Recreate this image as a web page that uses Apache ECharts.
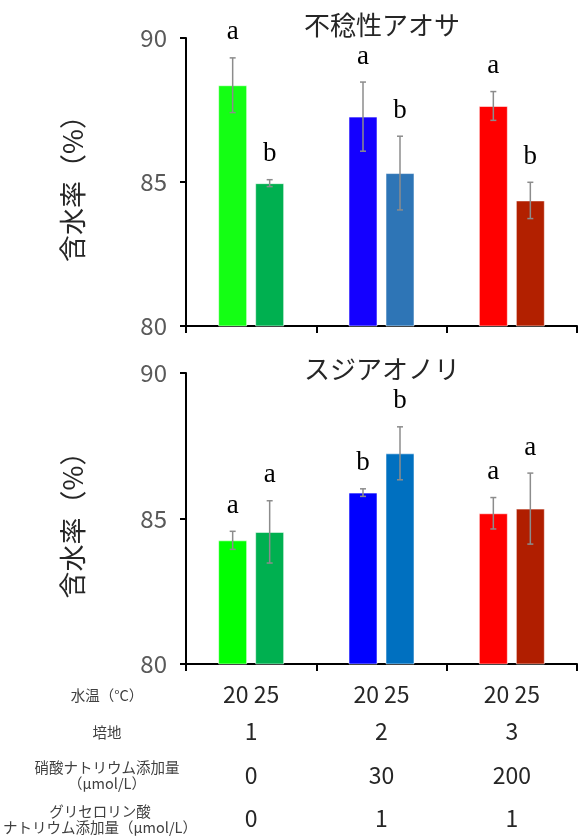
<!DOCTYPE html>
<html><head><meta charset="utf-8">
<script src="https://cdn.jsdelivr.net/npm/echarts@6/dist/echarts.min.js"></script>
<style>html,body{margin:0;padding:0;background:#fff}#c{width:579px;height:836px}</style>
</head><body><div id="c"></div>
<script>
// ---- data ----
const categories = ['1', '2', '3'];
const titles = ['不稔性アオサ', 'スジアオノリ'];
const yName = '含水率（%）';
// chart 1 (不稔性アオサ)
const top20 = [88.36, 87.27, 87.64];
const top25 = [84.96, 85.31, 84.36];
const top20Err = [0.95, 1.2, 0.5];
const top25Err = [0.12, 1.28, 0.63];
const top20Letters = ['a', 'a', 'a'];
const top25Letters = ['b', 'b', 'b'];
// chart 2 (スジアオノリ)
const bot20 = [84.25, 85.89, 85.18];
const bot25 = [84.54, 87.24, 85.34];
const bot20Err = [0.31, 0.13, 0.54];
const bot25Err = [1.07, 0.91, 1.22];
const bot20Letters = ['a', 'b', 'a'];
const bot25Letters = ['a', 'b', 'a'];
// table rows
const rowNames = ['水温（°C）', '培地', '硝酸ナトリウム添加量\n（μmol/L）', 'グリセロリン酸\nナトリウム添加量（μmol/L）'];
const tempLabels = ['20 25', '20 25', '20 25'];
const mediumLabels = ['1', '2', '3'];
const nitrateLabels = ['0', '30', '200'];
const glyceroLabels = ['0', '1', '1'];
const yTicks = {min: 80, max: 90, interval: 5};
// colors
const topColors20 = ['#14FF14', '#1400FF', '#FF0000'];
const topColors25 = ['#00B050', '#2E75B6', '#B22000'];
const botColors20 = ['#00FF00', '#0000FF', '#FF0000'];
const botColors25 = ['#00B050', '#0070C0', '#B01E00'];

const JP = '"Noto Sans CJK JP", "Noto Sans", sans-serif';
const BAR_W = 29, GAP = 8;

const chart = echarts.init(document.getElementById('c'));

function barSeries(vals, colors, gi) {
  return {
    type: 'bar', xAxisIndex: gi, yAxisIndex: gi, barWidth: BAR_W, barGap: (GAP / BAR_W * 100) + '%',
    data: vals.map((v, i) => ({value: v, itemStyle: {color: colors[i]}})),
    itemStyle: {borderColor: 'rgba(255,255,255,0.55)', borderWidth: 1},
    silent: true, z: 2
  };
}
function errSeries(vals, errs, letters, side, gi) {
  return {
    type: 'custom', xAxisIndex: gi, yAxisIndex: gi, z: 5, silent: true,
    data: vals.map((v, i) => [i, v - errs[i], v + errs[i], letters[i]]),
    renderItem: function (params, api) {
      const lo = api.coord([api.value(0), api.value(1)]);
      const hi = api.coord([api.value(0), api.value(2)]);
      const x = lo[0] + side * (BAR_W + GAP) / 2;
      const c = 3;
      const st = {stroke: '#8c8c8c', lineWidth: 1.5};
      return {type: 'group', children: [
        {type: 'line', shape: {x1: x, y1: lo[1], x2: x, y2: hi[1]}, style: st},
        {type: 'line', shape: {x1: x - c, y1: lo[1], x2: x + c, y2: lo[1]}, style: st},
        {type: 'line', shape: {x1: x - c, y1: hi[1], x2: x + c, y2: hi[1]}, style: st},
        {type: 'text', x: x, y: hi[1] - 12, style: {text: letters[params.dataIndex], fill: '#000',
          font: '27px "Liberation Serif", "DejaVu Serif", serif', align: 'center', verticalAlign: 'bottom'}}
      ]};
    }
  };
}

const grids = [
  {left: 186, top: 38, width: 391, height: 288},
  {left: 186, top: 373, width: 391, height: 291}
];
function mainX(gi) {
  return {type: 'category', gridIndex: gi, data: categories,
    axisLine: {lineStyle: {color: '#000', width: 2}},
    axisTick: {show: true, length: 7, alignWithLabel: false, interval: 0, lineStyle: {color: '#000', width: 2}},
    axisLabel: {show: false}, splitLine: {show: false}};
}
function rowX(data, offset) {
  return {type: 'category', gridIndex: 1, data: data, position: 'bottom', offset: offset,
    axisLine: {show: false}, axisTick: {show: false}, splitLine: {show: false},
    axisLabel: {show: true, interval: 0, margin: 0, color: '#262626', fontSize: 23, fontFamily: JP, verticalAlign: 'top'}};
}
function yAx(gi) {
  return {type: 'value', gridIndex: gi, min: yTicks.min, max: yTicks.max, interval: yTicks.interval,
    axisLine: {show: true, lineStyle: {color: '#000', width: 2}},
    axisTick: {show: true, length: 6, lineStyle: {color: '#000', width: 2}},
    splitLine: {show: false},
    axisLabel: {color: '#595959', fontSize: 24, fontFamily: JP, margin: 19},
    name: yName, nameLocation: 'middle', nameGap: 100, nameRotate: 90,
    nameTextStyle: {color: '#262626', fontSize: 27, fontFamily: JP}};
}

const rowY = [695, 732, 775, 819];
const graphics = [];
titles.forEach((t, i) => graphics.push({type: 'text', x: 382, y: i === 0 ? 25 : 369,
  style: {text: t, fill: '#262626', font: '26px ' + JP, align: 'center', verticalAlign: 'middle'}}));
rowNames.forEach((t, i) => graphics.push({type: 'text', x: i === 3 ? 100 : 107, y: rowY[i],
  style: {text: t, fill: '#404040', font: '14.5px ' + JP, align: 'center', verticalAlign: 'middle', lineHeight: 16}}));

chart.setOption({
  animation: false,
  grid: grids,
  xAxis: [mainX(0), mainX(1), rowX(tempLabels, 19), rowX(mediumLabels, 56), rowX(nitrateLabels, 100), rowX(glyceroLabels, 143)],
  yAxis: [yAx(0), yAx(1)],
  graphic: graphics,
  series: [
    barSeries(top20, topColors20, 0), barSeries(top25, topColors25, 0),
    errSeries(top20, top20Err, top20Letters, -1, 0), errSeries(top25, top25Err, top25Letters, 1, 0),
    barSeries(bot20, botColors20, 1), barSeries(bot25, botColors25, 1),
    errSeries(bot20, bot20Err, bot20Letters, -1, 1), errSeries(bot25, bot25Err, bot25Letters, 1, 1)
  ]
});
</script></body></html>
